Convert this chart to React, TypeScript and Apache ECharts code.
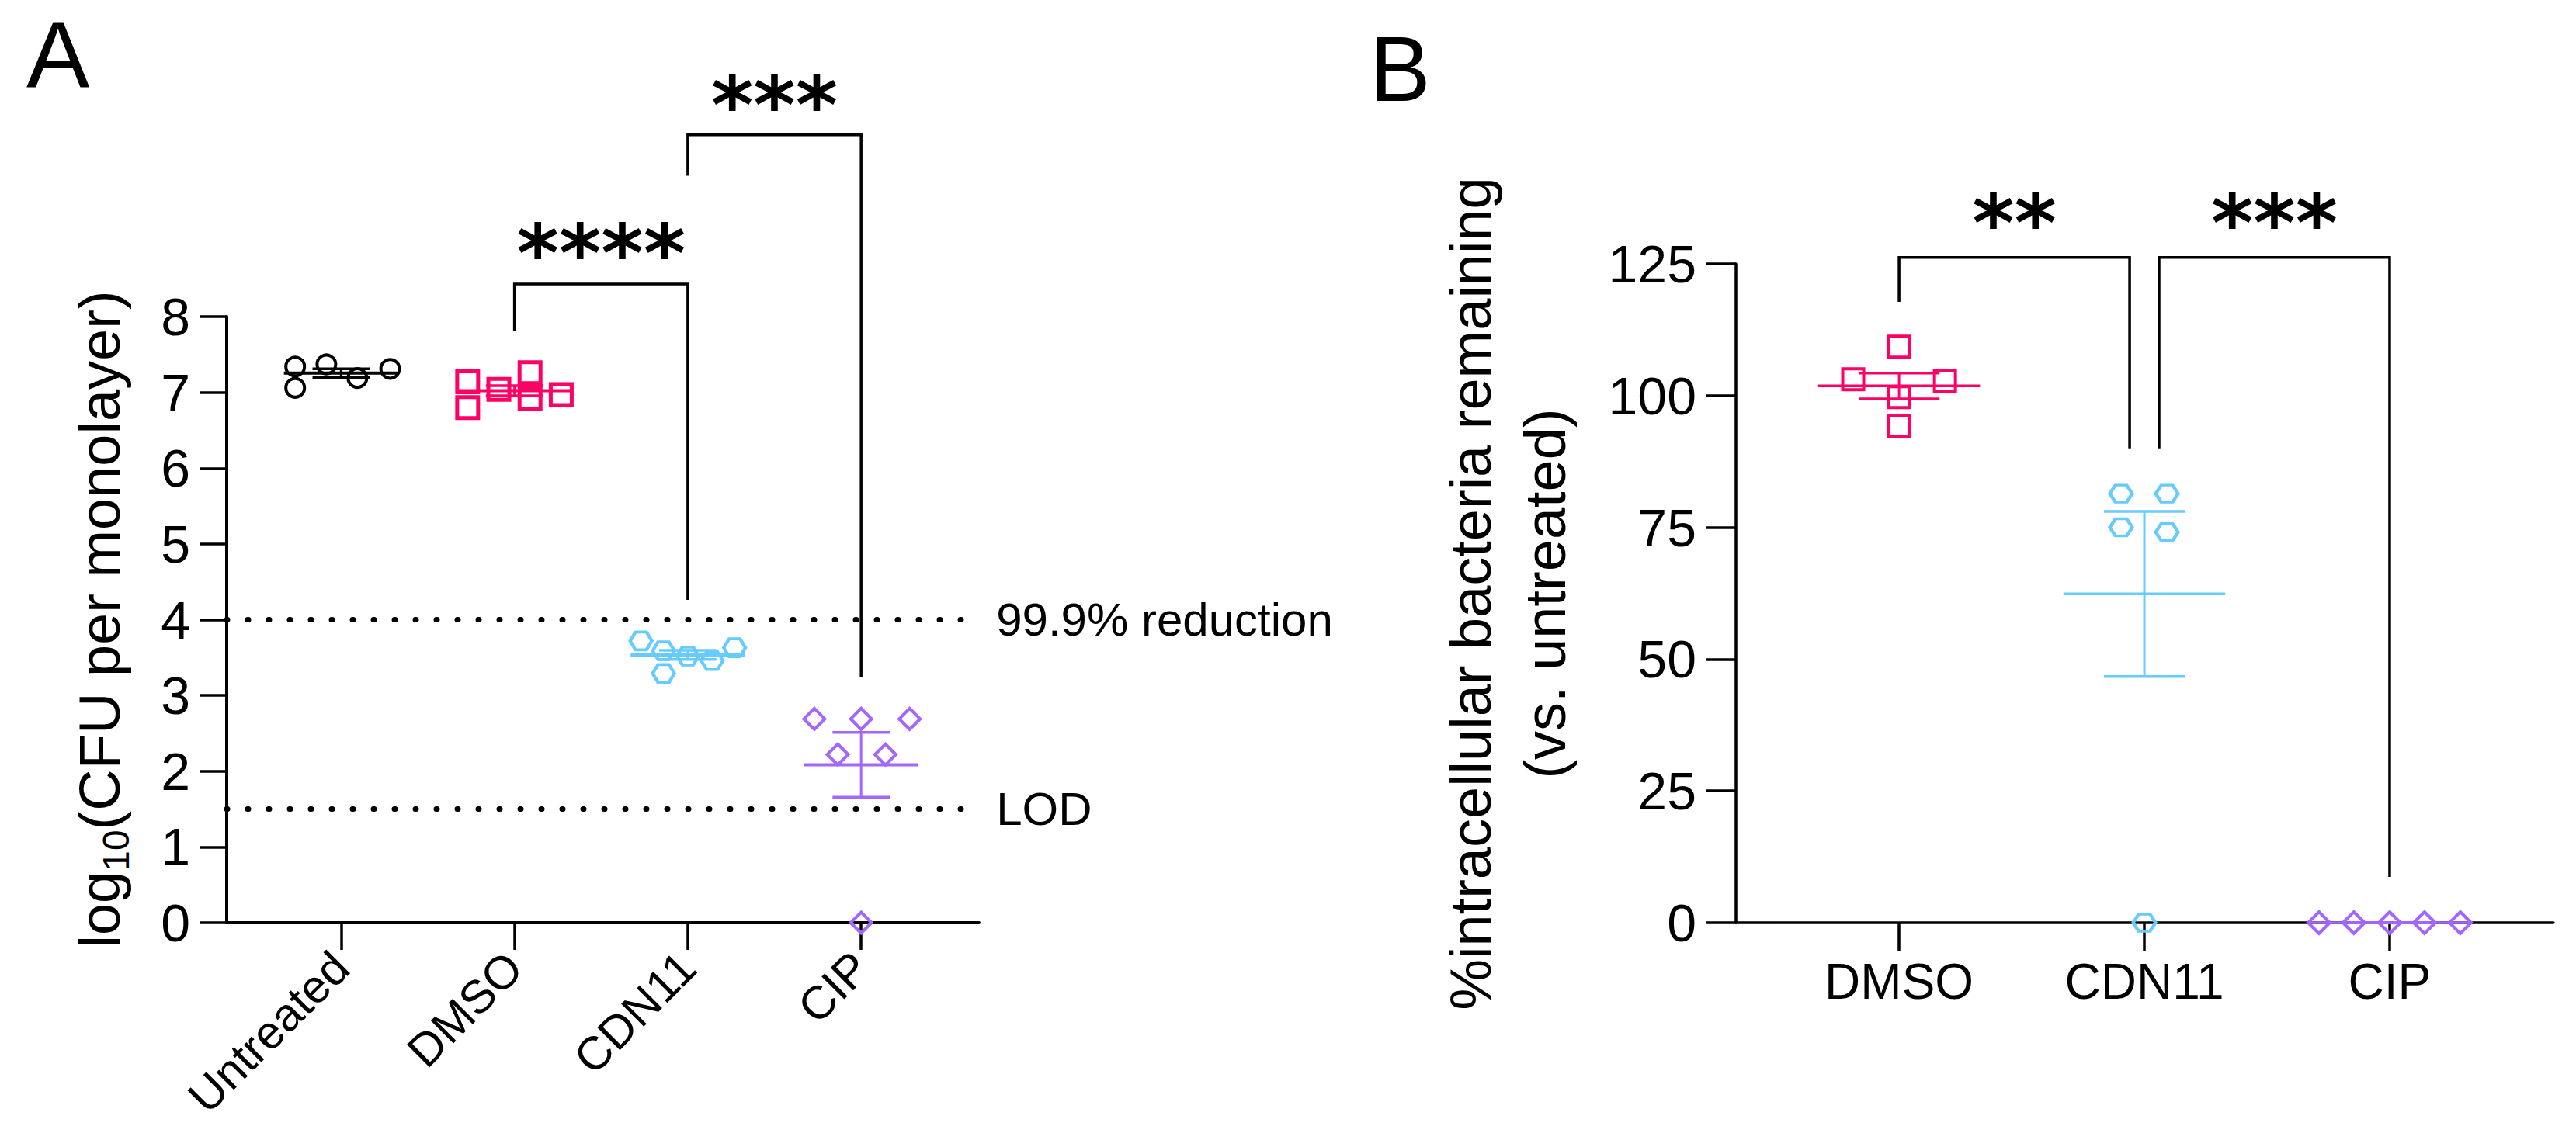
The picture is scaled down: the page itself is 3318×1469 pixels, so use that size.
import React, { useEffect, useRef } from 'react';
import * as echarts from 'echarts';

const FONT = "'Liberation Sans', Arial, Helvetica, sans-serif";
const STAR_FONT = "'DejaVu Sans', sans-serif";

// ---------- Panel A data ----------
const categoriesA = ['Untreated', 'DMSO', 'CDN11', 'CIP'];
const untreatedA = [7.34, 7.06, 7.37, 7.19, 7.31];
const untreatedJitterA = [-0.265, -0.265, -0.085, 0.094, 0.283];
const dmsoA = [7.14, 6.8, 7.04, 7.26, 6.92, 6.97];
const dmsoJitterA = [-0.27, -0.27, -0.09, 0.09, 0.09, 0.27];
const cdn11A = [3.72, 3.59, 3.29, 3.52, 3.46, 3.63];
const cdn11JitterA = [-0.27, -0.14, -0.14, 0, 0.14, 0.27];
const cipA = [2.69, 2.69, 2.69, 2.22, 2.22, 0];
const cipJitterA = [-0.27, 0, 0.28, -0.135, 0.14, 0];
const refLinesA = [4, 1.5];
const refLabelsA = ['99.9% reduction', 'LOD'];
// [from, to, top, leftEnd, rightEnd]
const bracketsA = [
  [2, 3, 8.43, 7.81, 4.26],
  [3, 4, 10.4, 9.86, 3.24],
];
const starsA = ['****', '***'];
const starYA = [8.83, 10.79];

// ---------- Panel B data ----------
const categoriesB = ['DMSO', 'CDN11', 'CIP'];
const dmsoB = [109.3, 103.1, 102.8, 99.7, 94.3];
const dmsoJitterB = [0, -0.187, 0.187, 0, 0];
const cdn11B = [81.4, 81.4, 75.0, 74.1, 0];
const cdn11JitterB = [-0.095, 0.092, -0.095, 0.092, 0];
const cipB = [0, 0, 0, 0, 0];
const cipJitterB = [-0.288, -0.146, 0, 0.142, 0.288];
const bracketsB = [
  [1, 1.94, 126.2, 117.8, 90.0],
  [2.06, 3, 126.2, 90.0, 8.7],
];
const starsB = ['**', '***'];
const starYB = [132.7, 132.7];

const BLACK = '#000000';
const PINK = '#ff0066';
const BLUE = '#66ccff';
const PURPLE = '#a366ff';
const HEX = 'path://M0,13 L7.5,0 L22.5,0 L30,13 L22.5,26 L7.5,26 Z';

function mean(a: number[]) {
  return a.reduce((s, v) => s + v, 0) / a.length;
}
function sem(a: number[]) {
  const m = mean(a);
  const sd = Math.sqrt(a.reduce((s, v) => s + (v - m) * (v - m), 0) / (a.length - 1));
  return sd / Math.sqrt(a.length);
}

function scatter(gi: number, pos: number, vals: number[], jit: number[], symbol: string, size: any, color: string, bw: number, extra: any = {}) {
  return {
    type: 'scatter',
    xAxisIndex: gi,
    yAxisIndex: gi,
    data: vals.map((v, i) => [pos + jit[i], v]),
    symbol,
    symbolSize: size,
    itemStyle: { color: 'rgba(0,0,0,0)', borderColor: color, borderWidth: bw, opacity: 1 },
    silent: true,
    z: 3,
    ...extra,
  };
}

function meanSeries(gi: number, groups: number[][], colors: string[], lw: number[]) {
  return {
    type: 'custom',
    xAxisIndex: gi,
    yAxisIndex: gi,
    silent: true,
    z: 4,
    data: groups.map((g, i) => [i + 1, mean(g), sem(g)]),
    renderItem: (params: any, api: any) => {
      const x = api.value(0);
      const m = api.value(1);
      const s = api.value(2);
      const color = colors[params.dataIndex];
      const c = api.coord([x, m]);
      const hi = api.coord([x, m + s]);
      const lo = api.coord([x, m - s]);
      const hw = api.size([0.33, 0])[0];
      const cw = api.size([0.165, 0])[0];
      return {
        type: 'group',
        children: [
          { type: 'line', shape: { x1: c[0], y1: hi[1], x2: c[0], y2: lo[1] }, style: { stroke: color, lineWidth: lw[2] } },
          { type: 'line', shape: { x1: c[0] - cw, y1: hi[1], x2: c[0] + cw, y2: hi[1] }, style: { stroke: color, lineWidth: lw[1] } },
          { type: 'line', shape: { x1: c[0] - cw, y1: lo[1], x2: c[0] + cw, y2: lo[1] }, style: { stroke: color, lineWidth: lw[1] } },
          { type: 'line', shape: { x1: c[0] - hw, y1: c[1], x2: c[0] + hw, y2: c[1] }, style: { stroke: color, lineWidth: lw[0] } },
        ],
      };
    },
  };
}

function bracketSeries(gi: number, brackets: number[][], stars: string[], starY: number[]) {
  return {
    type: 'custom',
    xAxisIndex: gi,
    yAxisIndex: gi,
    silent: true,
    clip: false,
    z: 5,
    data: brackets.map((b, i) => [...b, starY[i]]),
    renderItem: (params: any, api: any) => {
      const x1 = api.value(0);
      const x2 = api.value(1);
      const top = api.value(2);
      const l = api.value(3);
      const r = api.value(4);
      const ty = api.value(5);
      const p1 = api.coord([x1, l]);
      const p2 = api.coord([x1, top]);
      const p3 = api.coord([x2, top]);
      const p4 = api.coord([x2, r]);
      const t = api.coord([(x1 + x2) / 2, ty]);
      return {
        type: 'group',
        children: [
          { type: 'polyline', shape: { points: [p1, p2, p3, p4] }, style: { stroke: BLACK, lineWidth: 3.5, fill: null } },
          {
            type: 'text',
            x: t[0],
            y: t[1],
            style: {
              text: stars[params.dataIndex],
              fill: BLACK,
              fontSize: 104,
              fontWeight: 'bold',
              fontFamily: STAR_FONT,
              align: 'center',
              verticalAlign: 'middle',
            },
          },
        ],
      };
    },
  };
}

export default function App() {
  const ref = useRef<HTMLDivElement>(null);
  useEffect(() => {
    if (!ref.current) return;
    const chart = echarts.init(ref.current, undefined, { renderer: 'svg' });
    const axisLine = (w: number) => ({ show: true, onZero: false, lineStyle: { color: BLACK, width: w } });
    const option: any = {
      animation: false,
      backgroundColor: '#ffffff',
      grid: [
        { left: 292, right: 3318 - 1261, top: 408, bottom: 1469 - 1189, outerBoundsMode: 'none' },
        { left: 2236, right: 3318 - 3289, top: 340, bottom: 1469 - 1189, outerBoundsMode: 'none' },
      ],
      xAxis: [
        {
          type: 'value',
          gridIndex: 0,
          min: 0.34,
          max: 4.68,
          splitLine: { show: false },
          axisLine: axisLine(4),
          axisTick: { show: true, customValues: [1, 2, 3, 4], length: 35, lineStyle: { color: BLACK, width: 3.5 } },
          axisLabel: {
            show: true,
            customValues: [1, 2, 3, 4],
            formatter: (v: number) => categoriesA[Math.round(v) - 1] || '',
            rotate: 45,
            margin: 48,
            fontSize: 60,
            fontFamily: FONT,
            color: BLACK,
          },
        },
        {
          type: 'value',
          gridIndex: 1,
          min: 0.335,
          max: 3.668,
          splitLine: { show: false },
          axisLine: axisLine(3.5),
          axisTick: { show: true, customValues: [1, 2, 3], length: 37, lineStyle: { color: BLACK, width: 3.5 } },
          axisLabel: {
            show: true,
            customValues: [1, 2, 3],
            formatter: (v: number) => categoriesB[Math.round(v) - 1] || '',
            margin: 44,
            fontSize: 64,
            fontFamily: FONT,
            color: BLACK,
          },
        },
      ],
      yAxis: [
        {
          type: 'value',
          gridIndex: 0,
          min: 0,
          max: 8,
          interval: 1,
          splitLine: { show: false },
          axisLine: axisLine(4),
          axisTick: { show: true, length: 35, lineStyle: { color: BLACK, width: 3.5 } },
          axisLabel: { margin: 47, fontSize: 68, fontFamily: FONT, color: BLACK },
        },
        {
          type: 'value',
          gridIndex: 1,
          min: 0,
          max: 125,
          interval: 25,
          splitLine: { show: false },
          axisLine: axisLine(3.5),
          axisTick: { show: true, length: 38, lineStyle: { color: BLACK, width: 3.5 } },
          axisLabel: { margin: 51, fontSize: 68, fontFamily: FONT, color: BLACK },
        },
      ],
      graphic: [
        { type: 'text', left: 34, top: 10, style: { text: 'A', fontSize: 122, fontFamily: FONT, fill: BLACK } },
        { type: 'text', left: 1764, top: 30, style: { text: 'B', fontSize: 118, fontFamily: FONT, fill: BLACK } },
        {
          type: 'text',
          x: 128,
          y: 798,
          rotation: Math.PI / 2,
          style: {
            text: '{a|log}{s|10}{a|(CFU per monolayer)}',
            align: 'center',
            verticalAlign: 'middle',
            fill: BLACK,
            rich: {
              a: { fontSize: 74, fontFamily: FONT, lineHeight: 90, fill: BLACK },
              s: { fontSize: 48, fontFamily: FONT, lineHeight: 50, verticalAlign: 'bottom', fill: BLACK },
            },
          },
        },
        {
          type: 'text',
          x: 1942,
          y: 765,
          rotation: Math.PI / 2,
          style: {
            text: '%intracellular bacteria remaining\n(vs. untreated)',
            fontSize: 74,
            lineHeight: 96,
            fontFamily: FONT,
            align: 'center',
            verticalAlign: 'middle',
            fill: BLACK,
          },
        },
      ],
      series: [
        scatter(0, 1, untreatedA, untreatedJitterA, 'circle', 24, BLACK, 4, {
          markLine: {
            silent: true,
            symbol: ['none', 'none'],
            lineStyle: { type: [1, 26], width: 7, color: BLACK, cap: 'round' },
            label: { show: true, position: 'end', distance: 40, formatter: '{b}', fontSize: 60, fontFamily: FONT, color: BLACK },
            data: refLinesA.map((v, i) => [
              { coord: [0.34, v], name: refLabelsA[i] },
              { coord: [4.6, v], name: refLabelsA[i] },
            ]),
          },
        }),
        scatter(0, 2, dmsoA, dmsoJitterA, 'rect', 27, PINK, 5),
        scatter(0, 3, cdn11A, cdn11JitterA, HEX, [28, 23], BLUE, 4),
        scatter(0, 4, cipA, cipJitterA, 'diamond', [27, 27], PURPLE, 4),
        meanSeries(0, [untreatedA, dmsoA, cdn11A, cipA], [BLACK, PINK, BLUE, PURPLE], [4, 3.5, 3]),
        bracketSeries(0, bracketsA, starsA, starYA),
        scatter(1, 1, dmsoB, dmsoJitterB, 'rect', 27, PINK, 4),
        scatter(1, 2, cdn11B, cdn11JitterB, HEX, [29, 22], BLUE, 4),
        scatter(1, 3, cipB, cipJitterB, 'diamond', [28, 28], PURPLE, 4),
        meanSeries(1, [dmsoB, cdn11B, cipB], [PINK, BLUE, PURPLE], [3.5, 3.5, 3]),
        bracketSeries(1, bracketsB, starsB, starYB),
      ],
    };
    chart.setOption(option);
    return () => chart.dispose();
  }, []);
  return (
    <div
      ref={ref}
      style={{ position: 'fixed', left: 0, top: 0, width: 3318, height: 1469, background: '#ffffff' }}
    />
  );
}
